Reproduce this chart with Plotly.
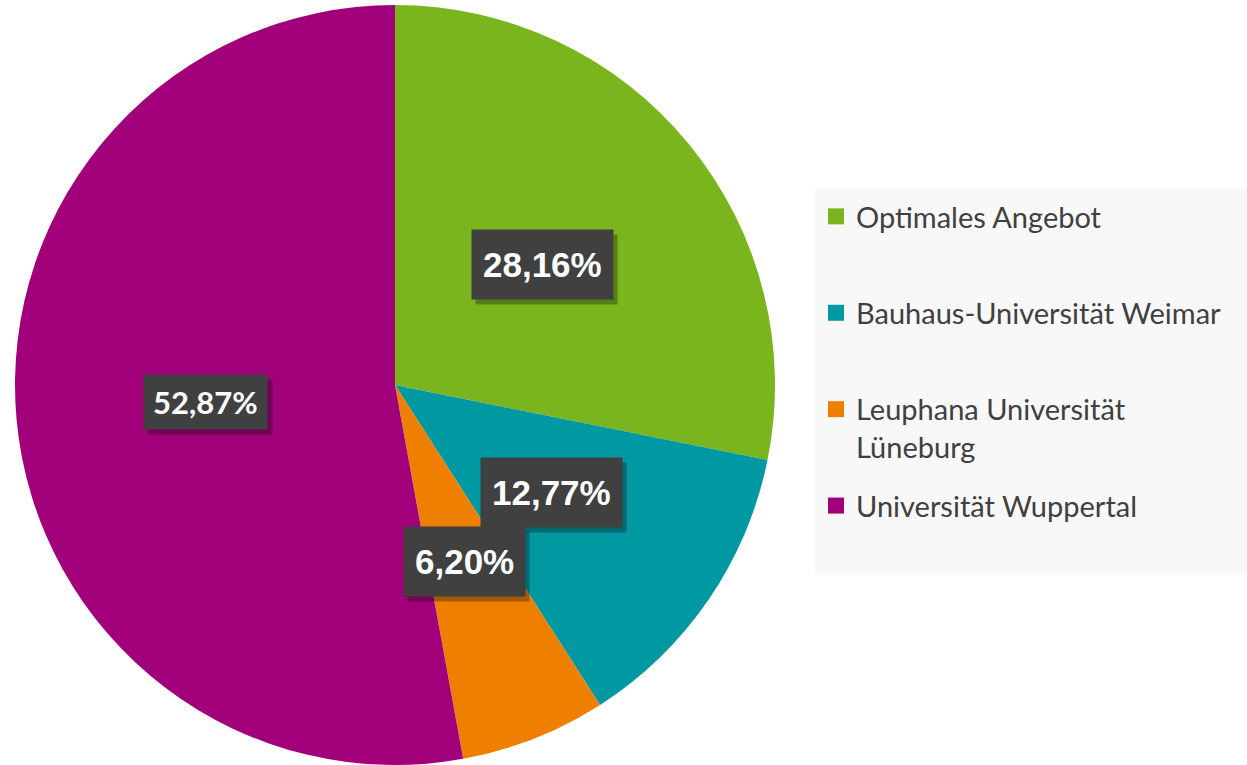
import math
import plotly.graph_objects as go

# ---- data ----
categories = ["Optimales Angebot", "Bauhaus-Universität Weimar",
              "Leuphana Universität Lüneburg", "Universität Wuppertal"]
legend_labels = ["Optimales Angebot<br>&nbsp;", "Bauhaus-Universität Weimar<br>&nbsp;",
                 "Leuphana Universität<br>Lüneburg", "Universität Wuppertal<br>&nbsp;"]
values = [28.16, 12.77, 6.20, 52.87]
colors = ["#7ab51d", "#0098a1", "#ee7f00", "#a2007b"]

W, H = 1247, 765
CX, CY, R = 395, 385, 380  # pie centre / radius in pixels

# approximate glyph advance widths (em) used to size the label shadows
GLYPH_EM = {
    "big": {"d": 0.556, ",": 0.278, "%": 0.889},
    "small": {"d": 0.58, ",": 0.25, "%": 0.84},
}


def text_width(txt, kind, size):
    m = GLYPH_EM[kind]
    return size * sum(m["d"] if ch.isdigit() else m.get(ch, 0.5) for ch in txt)


fig = go.Figure()
fig.add_trace(go.Pie(
    labels=categories, values=values, sort=False, direction="clockwise",
    rotation=0, marker=dict(colors=colors, line=dict(width=0)),
    textinfo="none", hoverinfo="label+percent", showlegend=False,
    domain=dict(x=[(CX - R) / W, (CX + R) / W], y=[1 - (CY + R) / H, 1 - (CY - R) / H]),
))

# legend entries (one group each so the spacing can be set)
for lab, col in zip(legend_labels, colors):
    fig.add_trace(go.Scatter(
        x=[None], y=[None], mode="markers", name=lab, legendgroup=lab,
        marker=dict(symbol="square", size=18, color=col), showlegend=True,
    ))

# data labels as boxed annotations at half radius along the slice mid-angle
total = sum(values)
cum = 0.0
annotations = []
for i, v in enumerate(values):
    mid = (cum + v / 2) / total * 2 * math.pi
    cum += v
    px = CX + 0.5 * R * math.sin(mid)
    py = CY - 0.5 * R * math.cos(mid)
    txt = f"{v / total * 100:.2f}%".replace(".", ",")
    big = v / total < 0.5
    if big:
        kind, fsize, family, bh, pad = "big", 35, "Liberation Sans, Arial, sans-serif", 47, 11
    else:
        kind, fsize, family, bh, pad = "small", 31, "Lato, sans-serif", 36, 9
    tw = text_width(txt, kind, fsize)
    common = dict(x=px / W, y=1 - py / H, xref="paper", yref="paper",
                  showarrow=False, borderpad=pad, height=bh,
                  align="center", valign="middle",
                  xanchor="center", yanchor="middle")
    annotations.append(dict(common, text="&nbsp;", width=tw, xshift=4, yshift=-5,
                            bgcolor="rgba(0,0,0,0.30)",
                            font=dict(size=fsize, family=family, color="rgba(0,0,0,0)")))
    annotations.append(dict(common, text=f"<b>{txt}</b>", bgcolor="#404040",
                            font=dict(size=fsize, family=family, color="#ffffff")))

fig.update_layout(
    width=W, height=H, margin=dict(l=0, r=0, t=0, b=0),
    paper_bgcolor="white", plot_bgcolor="white",
    separators=",.",
    xaxis=dict(visible=False), yaxis=dict(visible=False),
    showlegend=True,
    legend=dict(x=816 / W, y=1 - 191 / H, xanchor="left", yanchor="top",
                bgcolor="rgba(0,0,0,0)", valign="top", tracegroupgap=18,
                itemsizing="trace",
                font=dict(family="Lato, sans-serif", size=29, color="#404040")),
    shapes=[dict(type="rect", xref="paper", yref="paper", x0=815 / W, x1=1,
                 y0=1 - 575 / H, y1=1 - 188 / H, fillcolor="#f8f8f8",
                 line=dict(width=0), layer="below")],
    annotations=annotations,
)

fig.write_html("out.html", config={"displayModeBar": False},
               post_script="document.body.style.margin='0px';")
